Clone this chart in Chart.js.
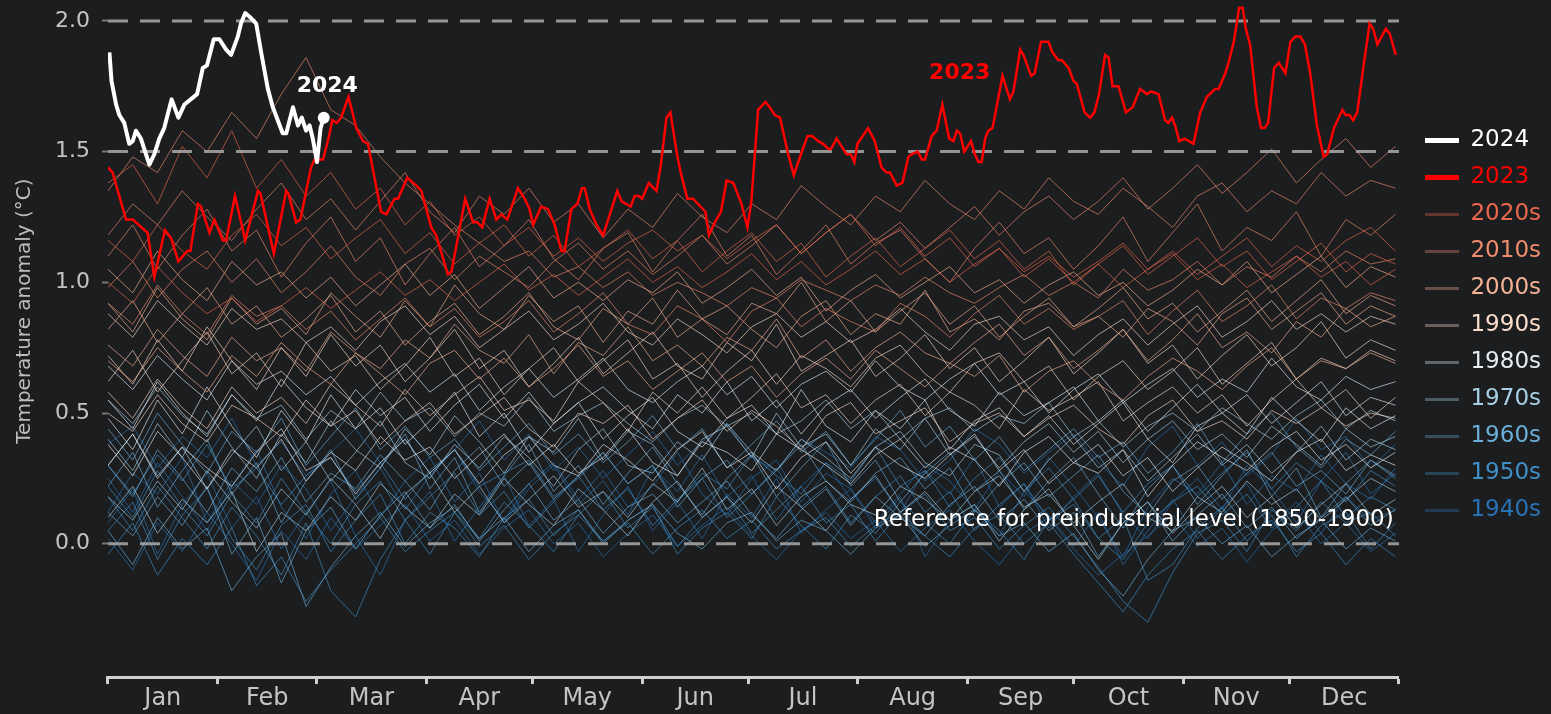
<!DOCTYPE html>
<html>
<head>
<meta charset="utf-8">
<script src="https://cdn.jsdelivr.net/npm/chart.js@4.4.1/dist/chart.umd.min.js"></script>
<style>
  html, body { margin: 0; padding: 0; background: #1c1d1f; }
  #wrap { width: 1551px; height: 714px; }
</style>
</head>
<body>
<div id="wrap"><canvas id="anomalyChart" width="1551" height="714"></canvas></div>
<script>
const FONT = "'DejaVu Sans', 'Noto Sans', sans-serif";

// axis stuff
const monthStarts = [0, 31, 59, 90, 120, 151, 181, 212, 243, 273, 304, 334, 365];
const monthNames = ['Jan', 'Feb', 'Mar', 'Apr', 'May', 'Jun', 'Jul', 'Aug', 'Sep', 'Oct', 'Nov', 'Dec'];
const yTicks = [0, 0.5, 1.0, 1.5, 2.0];
const refLevels = [0, 1.5, 2.0];

// 2024 (day of year, anomaly)
const days2024 = [0.4, 1, 2.3, 3.2, 4.6, 6, 7, 7.9, 9.3, 11.7, 13.1, 14.5, 15.9, 18, 19.9, 21.6, 25.2, 26.8, 28,
  29.9, 31.5, 33.4, 34.8, 36.7, 37.6, 38.8, 40.5, 41.9, 43.3, 45.2, 46.6, 49.4, 50.4, 52.3, 53.7, 54.8, 56, 57,
  57.9, 59.1, 60.1, 61];
const vals2024 = [1.88, 1.77, 1.68, 1.64, 1.61, 1.53, 1.54, 1.58, 1.55, 1.45, 1.49, 1.55, 1.59, 1.70, 1.63, 1.68, 1.72, 1.82, 1.83,
  1.93, 1.93, 1.89, 1.87, 1.94, 1.99, 2.03, 2.01, 1.99, 1.88, 1.74, 1.67, 1.57, 1.57, 1.67, 1.60, 1.63, 1.58, 1.60,
  1.55, 1.46, 1.59, 1.63];

// 2023
const days2023 = [0, 1.3, 5.1, 7, 10.3, 11.2, 13.1, 16.1, 17.8, 19.9, 22.4, 23.3, 25.4, 26.3, 28.7, 30.1, 32.5, 33.4, 35.9, 38.8,
  42.4, 43.1, 46.9, 50.4, 51, 53.2, 54.4, 57.4, 58.4, 60.8, 62.5, 63.4, 64.7, 65.9, 68, 70.2, 72.1, 73.5, 77.2, 78.7,
  81, 82, 84.6, 87.2, 88.6, 91.4, 92.8, 96.1, 97.1, 101, 103.2, 104.4, 105.8, 107.9, 109.8, 111.2, 112.9, 115.9, 117.8, 119.2,
  120.2, 122.5, 124.4, 126.3, 128.2, 129.1, 131, 132.7, 134, 134.8, 136.2, 138.1, 140, 144, 145.2, 147.8, 148.9, 150.1, 151, 152.9,
  155.1, 156.3, 157.9, 159, 161, 162.1, 163.8, 165.4, 168.9, 169.9, 171.6, 173.3, 174.9, 176.8, 179.1, 180.8, 181.9, 183.8, 185.9, 187.1,
  188.5, 190, 192.3, 193.9, 195.9, 197.8, 199.1, 200.8, 202.2, 203.7, 204.4, 206, 207.4, 208.8, 210, 211, 211.9, 214.9, 216.8, 218.7,
  220.1, 221.1, 223, 224.6, 226.3, 227.2, 228.9, 230.1, 231, 232.9, 234.3, 235.9, 237.8, 239, 240, 240.9, 242.1, 244, 245.1, 246.1,
  247, 248, 248.9, 250.1, 252.9, 255, 256, 257.9, 258.8, 261, 262, 263.8, 265.9, 267, 268.7, 269.7, 271.6, 273, 273.9, 276.1,
  277.7, 278.9, 280.2, 281.9, 282.9, 284, 285.7, 287.8, 289.7, 291.8, 293.7, 294.9, 297, 298.9, 299.8, 300.8, 301.7, 302.9, 304.4, 306.9,
  308.8, 310.7, 313, 314, 315.9, 316.8, 318.3, 319.8, 320.8, 321.7, 322.9, 324.8, 326, 327, 328, 329.7, 331, 332.9, 334.3, 335.7,
  337.1, 338.4, 339.9, 341.8, 343.7, 344.7, 346.6, 349, 349.9, 351, 352, 353.2, 355.1, 356.7, 357.7, 358.9, 361.3, 362.4, 364.1];
const vals2023 = [1.44, 1.42, 1.24, 1.24, 1.20, 1.19, 1.02, 1.20, 1.17, 1.08, 1.12, 1.12, 1.30, 1.29, 1.19, 1.24, 1.16, 1.16, 1.33, 1.16,
  1.35, 1.34, 1.11, 1.35, 1.34, 1.23, 1.24, 1.44, 1.47, 1.47, 1.56, 1.62, 1.61, 1.63, 1.71, 1.59, 1.54, 1.53, 1.27, 1.26,
  1.32, 1.32, 1.40, 1.37, 1.35, 1.21, 1.18, 1.03, 1.04, 1.32, 1.23, 1.23, 1.21, 1.32, 1.24, 1.26, 1.24, 1.36, 1.32, 1.28,
  1.22, 1.29, 1.28, 1.22, 1.12, 1.12, 1.28, 1.30, 1.36, 1.36, 1.28, 1.22, 1.18, 1.35, 1.31, 1.29, 1.33, 1.33, 1.32, 1.38,
  1.35, 1.45, 1.63, 1.65, 1.48, 1.41, 1.32, 1.32, 1.27, 1.18, 1.23, 1.27, 1.39, 1.38, 1.30, 1.21, 1.31, 1.66, 1.69, 1.67,
  1.64, 1.63, 1.49, 1.41, 1.49, 1.56, 1.56, 1.54, 1.53, 1.51, 1.51, 1.55, 1.52, 1.49, 1.49, 1.46, 1.53, 1.59, 1.54, 1.44,
  1.42, 1.42, 1.37, 1.38, 1.48, 1.49, 1.50, 1.47, 1.47, 1.56, 1.58, 1.68, 1.55, 1.54, 1.58, 1.57, 1.50, 1.54, 1.49, 1.46,
  1.46, 1.55, 1.58, 1.59, 1.79, 1.70, 1.73, 1.89, 1.87, 1.79, 1.80, 1.92, 1.92, 1.88, 1.85, 1.85, 1.82, 1.77, 1.76, 1.65,
  1.63, 1.65, 1.72, 1.87, 1.86, 1.75, 1.75, 1.65, 1.67, 1.74, 1.72, 1.73, 1.72, 1.62, 1.61, 1.63, 1.60, 1.54, 1.55, 1.53,
  1.65, 1.71, 1.74, 1.74, 1.80, 1.84, 1.92, 2.05, 2.05, 1.97, 1.91, 1.67, 1.59, 1.59, 1.61, 1.82, 1.84, 1.80, 1.92, 1.94,
  1.94, 1.91, 1.80, 1.60, 1.48, 1.49, 1.59, 1.66, 1.64, 1.64, 1.62, 1.65, 1.84, 1.99, 1.97, 1.91, 1.97, 1.95, 1.87];

// background years, sampled weekly (estimated, a few per decade)
const bgDays = [0, 7, 14, 21, 28, 35, 42, 49, 56, 63, 70, 77, 84, 91, 98, 105, 112, 119, 126, 133, 140, 147, 154, 161, 168, 175,
  182, 189, 196, 203, 210, 217, 224, 231, 238, 245, 252, 259, 266, 273, 280, 287, 294, 301, 308, 315, 322, 329, 336, 343, 350, 357, 364];

const y1940s = [
  [0.25,0.12,0.31,0.18,0.05,0.22,0.36,0.14,0.02,0.19, 0.28,0.10,0.24,0.33,0.16,0.27,0.08,0.21,0.30,0.15, 0.24,0.11,0.29,0.20,0.34,0.18,0.26,0.09,0.22,0.31,
   0.17,0.25,0.12,0.28,0.19,0.33,0.14,0.23,0.06,0.18, 0.27,0.11,0.02,0.16,0.25,0.13,0.30,0.21,0.08,0.24, 0.35,0.19,0.27],
  [0.08,0.21,-0.04,0.15,0.27,0.06,0.18,-0.02,0.12,0.24, 0.03,-0.12,0.09,0.20,0.01,0.14,0.26,0.07,0.17,-0.03, 0.11,0.22,0.05,0.16,0.02,0.19,0.10,0.25,0.04,0.13,
   0.21,0.06,0.18,-0.05,0.09,0.15,0.03,0.20,0.11,-0.01, 0.12,-0.08,0.05,0.17,0.02,0.14,0.23,0.07,0.16,0.04, 0.18,0.09,0.13],
  [0.38,0.45,0.29,0.41,0.33,0.48,0.30,0.39,0.26,0.35, 0.44,0.31,0.40,0.27,0.36,0.47,0.32,0.42,0.28,0.37, 0.25,0.34,0.43,0.30,0.39,0.46,0.33,0.28,0.40,0.35,
   0.29,0.41,0.36,0.24,0.32,0.44,0.38,0.27,0.35,0.42, 0.31,0.22,0.37,0.45,0.30,0.39,0.26,0.34,0.48,0.36, 0.41,0.29,0.38],
  [0.12,0.27,0.19,0.33,0.08,0.24,0.15,0.30,0.21,0.05, 0.18,0.29,0.13,0.26,0.36,0.20,0.09,0.23,0.31,0.17, 0.28,0.14,0.22,0.35,0.19,0.11,0.25,0.32,0.16,0.27,
   0.21,0.08,0.19,0.30,0.24,0.13,0.28,0.18,0.33,0.22, 0.10,-0.05,0.14,0.25,0.19,0.31,0.15,0.26,0.20,0.34, 0.23,0.17,0.29],
  [0.02,-0.10,0.08,-0.03,0.12,0.00,-0.14,0.05,-0.06,0.10, -0.02,0.07,0.15,0.01,0.09,-0.04,0.06,0.13,0.00,0.08, -0.05,0.04,0.11,-0.01,0.07,0.14,0.03,-0.06,0.05,0.12,
   0.02,0.09,-0.03,0.06,0.13,0.01,-0.08,0.04,0.10,-0.02, -0.12,-0.04,0.03,0.11,-0.01,0.06,-0.07,0.05,0.12,0.00, 0.08,-0.03,0.04]
];
const y1950s = [
  [0.18,0.05,0.22,0.10,-0.02,0.14,0.03,-0.12,0.08,-0.18, -0.28,-0.06,0.09,-0.04,0.12,0.02,0.16,0.07,-0.03,0.11, 0.20,0.06,0.14,-0.01,0.10,0.18,0.04,0.13,0.22,0.08,
   0.15,0.01,0.12,0.19,0.05,0.10,-0.02,0.07,0.14,0.03, -0.09,-0.22,-0.30,-0.11,0.04,0.09,-0.03,0.13,0.05,0.16, 0.08,0.12,0.03],
  [0.30,0.19,0.34,0.24,0.38,0.21,0.29,0.15,0.26,0.33, 0.20,0.31,0.17,0.28,0.36,0.22,0.27,0.32,0.18,0.25, 0.35,0.23,0.30,0.16,0.27,0.21,0.34,0.26,0.19,0.31,
   0.24,0.37,0.22,0.28,0.14,0.25,0.33,0.20,0.29,0.17, 0.26,0.12,0.23,0.30,0.18,0.27,0.35,0.21,0.31,0.24, 0.16,0.28,0.22],
  [0.05,0.16,-0.06,0.11,0.21,0.02,-0.10,0.07,0.15,-0.03, 0.09,0.19,0.00,0.12,0.06,-0.05,0.10,0.17,0.03,0.13, 0.01,0.09,0.15,-0.04,0.06,0.12,0.02,0.18,0.07,-0.02,
   0.11,0.04,0.16,0.08,0.00,0.13,0.05,-0.06,0.09,0.15, 0.02,0.10,-0.14,-0.08,0.06,0.14,0.01,0.11,-0.05,0.07, 0.12,-0.02,0.08],
  [0.22,0.10,0.28,0.14,0.03,0.19,0.08,0.25,0.12,0.00, 0.15,0.24,0.09,0.18,0.27,0.11,0.20,0.06,0.16,0.26, 0.13,0.21,0.07,0.17,0.25,0.10,0.19,0.29,0.14,0.22,
   0.08,0.18,0.26,0.12,0.20,0.05,0.15,0.23,0.09,0.17, 0.02,-0.06,0.08,0.16,0.22,0.11,0.19,0.06,0.14,0.24, 0.10,0.18,0.13],
  [-0.04,0.08,-0.12,0.02,-0.08,0.06,-0.16,-0.05,-0.22,-0.10, 0.00,0.10,-0.03,0.05,0.12,-0.01,0.07,-0.06,0.04,0.11, 0.01,0.08,-0.04,0.06,0.13,0.02,0.09,-0.02,0.05,0.10,
   -0.01,0.07,0.12,0.03,-0.05,0.06,0.11,0.00,0.08,-0.04, -0.15,-0.26,-0.12,-0.02,0.05,-0.06,0.03,0.09,-0.03,0.04, -0.08,0.02,-0.05]
];
const y1960s = [
  [0.22,0.35,0.14,0.28,0.40,0.19,0.31,0.08,0.24,0.36, 0.17,0.29,0.42,0.21,0.33,0.12,0.26,0.38,0.20,0.30, 0.15,0.27,0.37,0.23,0.11,0.25,0.34,0.18,0.29,0.39,
   0.22,0.32,0.16,0.27,0.35,0.20,0.28,0.13,0.24,0.33, 0.19,0.06,0.21,0.30,0.15,0.26,0.36,0.18,0.29,0.10, 0.23,0.32,0.25],
  [0.12,0.03,0.18,0.07,0.22,-0.04,0.10,-0.15,0.05,0.14, -0.02,0.11,0.20,0.06,0.15,0.01,0.13,0.23,0.09,0.17, 0.04,0.14,0.19,0.08,0.16,0.24,0.11,0.02,0.13,0.21,
   0.07,0.18,0.10,0.03,0.15,0.22,0.09,0.17,0.05,0.12, -0.05,0.08,0.16,0.01,0.11,0.19,0.06,0.14,0.02,0.10, 0.18,0.07,0.13],
  [0.44,0.32,0.50,0.38,0.27,0.43,0.35,0.48,0.30,0.41, 0.52,0.36,0.45,0.33,0.40,0.28,0.37,0.46,0.34,0.42, 0.31,0.39,0.49,0.36,0.44,0.29,0.38,0.47,0.35,0.43,
   0.30,0.40,0.51,0.37,0.45,0.32,0.41,0.28,0.36,0.44, 0.33,0.39,0.27,0.35,0.46,0.31,0.42,0.50,0.37,0.29, 0.40,0.34,0.43],
  [0.30,0.18,0.36,0.25,0.12,0.29,0.20,0.33,0.16,0.27, 0.21,0.34,0.24,0.13,0.28,0.37,0.22,0.31,0.17,0.26, 0.35,0.23,0.30,0.14,0.25,0.32,0.19,0.28,0.38,0.24,
   0.16,0.27,0.33,0.21,0.29,0.12,0.23,0.31,0.18,0.26, 0.34,0.20,0.11,0.24,0.30,0.17,0.27,0.35,0.22,0.28, 0.19,0.32,0.26],
  [0.05,-0.08,0.10,-0.02,0.06,-0.18,-0.05,0.04,-0.24,-0.09, 0.03,0.12,-0.01,0.08,0.14,0.02,0.10,-0.03,0.07,0.13, 0.00,0.09,0.15,0.04,-0.02,0.08,0.12,0.01,0.09,0.05,
   -0.04,0.06,0.11,-0.01,0.07,0.13,0.03,0.08,-0.03,0.04, -0.10,-0.20,-0.06,0.05,0.10,0.00,0.07,-0.05,0.03,0.09, -0.02,0.06,0.01]
];
const y1970s = [
  [0.30,0.42,0.26,0.37,0.21,0.34,0.45,0.28,0.39,0.24, 0.35,0.47,0.31,0.25,0.38,0.29,0.41,0.33,0.22,0.36, 0.44,0.30,0.27,0.39,0.32,0.46,0.35,0.28,0.40,0.33,
   0.25,0.37,0.43,0.31,0.26,0.38,0.34,0.20,0.32,0.41, 0.29,0.36,0.24,0.33,0.42,0.30,0.38,0.27,0.35,0.45, 0.32,0.40,0.36],
  [0.18,0.09,0.24,0.13,0.28,0.16,0.06,0.21,0.11,0.25, 0.15,0.02,0.19,0.27,0.12,0.22,0.08,0.17,0.26,0.14, 0.20,0.10,0.23,0.16,0.29,0.13,0.21,0.07,0.18,0.24,
   0.15,0.11,0.22,0.17,0.09,0.20,0.26,0.14,0.19,0.08, 0.16,0.23,0.10,0.05,0.18,0.12,0.24,0.15,0.21,0.09, 0.17,0.25,0.20],
  [0.55,0.46,0.60,0.49,0.42,0.57,0.48,0.53,0.40,0.51, 0.44,0.58,0.47,0.52,0.41,0.50,0.45,0.56,0.43,0.49, 0.54,0.46,0.39,0.48,0.53,0.45,0.50,0.42,0.47,0.55,
   0.44,0.51,0.40,0.48,0.52,0.43,0.49,0.46,0.54,0.41, 0.47,0.37,0.45,0.50,0.43,0.52,0.46,0.40,0.49,0.55, 0.44,0.51,0.47],
  [0.40,0.28,0.46,0.33,0.51,0.37,0.25,0.42,0.31,0.47, 0.36,0.29,0.44,0.34,0.49,0.39,0.27,0.41,0.35,0.48, 0.32,0.43,0.38,0.26,0.40,0.45,0.33,0.50,0.37,0.42,
   0.30,0.44,0.36,0.48,0.34,0.41,0.29,0.39,0.46,0.35, 0.43,0.31,0.40,0.47,0.36,0.42,0.33,0.45,0.38,0.30, 0.44,0.37,0.41],
  [0.10,0.22,0.04,0.17,0.08,0.20,-0.03,0.12,0.05,0.18, 0.09,0.23,0.14,0.06,0.19,0.11,0.25,0.15,0.07,0.21, 0.13,0.03,0.16,0.24,0.10,0.18,0.08,0.22,0.14,0.05,
   0.17,0.26,0.12,0.20,0.09,0.15,0.01,0.13,0.21,0.07, -0.06,0.08,0.16,0.04,0.14,0.22,0.10,0.18,0.06,0.15, 0.23,0.11,0.17]
];
const y1980s = [
  [0.48,0.36,0.55,0.42,0.60,0.45,0.33,0.51,0.39,0.57, 0.44,0.52,0.38,0.47,0.58,0.41,0.50,0.35,0.46,0.54, 0.40,0.49,0.56,0.43,0.37,0.48,0.53,0.42,0.59,0.45,
   0.39,0.51,0.44,0.55,0.36,0.47,0.52,0.41,0.49,0.38, 0.46,0.54,0.40,0.31,0.45,0.50,0.42,0.56,0.47,0.39, 0.52,0.44,0.49],
  [0.30,0.42,0.25,0.37,0.29,0.22,0.35,0.44,0.28,0.33, 0.19,0.31,0.40,0.27,0.36,0.23,0.34,0.41,0.30,0.26, 0.38,0.32,0.24,0.36,0.43,0.29,0.35,0.21,0.33,0.39,
   0.27,0.37,0.30,0.25,0.34,0.42,0.28,0.36,0.23,0.31, 0.38,0.26,0.33,0.20,0.29,0.37,0.31,0.24,0.35,0.40, 0.28,0.34,0.30],
  [0.68,0.59,0.72,0.63,0.55,0.70,0.61,0.66,0.57,0.64, 0.53,0.62,0.69,0.58,0.65,0.51,0.60,0.67,0.56,0.63, 0.71,0.59,0.54,0.62,0.68,0.57,0.64,0.52,0.61,0.66,
   0.58,0.70,0.60,0.55,0.63,0.69,0.57,0.62,0.50,0.59, 0.65,0.54,0.61,0.67,0.56,0.63,0.58,0.71,0.60,0.55, 0.64,0.59,0.62],
  [0.55,0.44,0.62,0.50,0.41,0.57,0.47,0.63,0.52,0.45, 0.59,0.49,0.56,0.43,0.53,0.61,0.48,0.58,0.46,0.54, 0.60,0.51,0.44,0.57,0.50,0.62,0.47,0.55,0.42,0.53,
   0.59,0.48,0.56,0.63,0.51,0.45,0.58,0.49,0.54,0.60, 0.47,0.55,0.43,0.52,0.61,0.50,0.57,0.46,0.54,0.62, 0.49,0.56,0.53],
  [0.38,0.26,0.43,0.33,0.21,0.36,0.29,0.40,0.24,0.35, 0.28,0.41,0.32,0.37,0.25,0.34,0.42,0.30,0.38,0.27, 0.33,0.44,0.31,0.26,0.39,0.35,0.28,0.42,0.36,0.30,
   0.23,0.34,0.40,0.29,0.37,0.32,0.22,0.35,0.41,0.31, 0.27,0.36,0.18,0.30,0.39,0.33,0.28,0.37,0.43,0.32, 0.38,0.29,0.35]
];
const y1990s = [
  [0.62,0.74,0.58,0.70,0.81,0.65,0.73,0.60,0.77,0.66, 0.72,0.59,0.68,0.79,0.64,0.71,0.57,0.67,0.75,0.62, 0.70,0.78,0.63,0.69,0.56,0.66,0.74,0.61,0.72,0.67,
   0.60,0.71,0.76,0.65,0.58,0.69,0.73,0.62,0.68,0.55, 0.64,0.70,0.59,0.66,0.75,0.61,0.69,0.77,0.63,0.71, 0.67,0.74,0.70],
  [0.50,0.43,0.57,0.46,0.39,0.53,0.48,0.41,0.55,0.45, 0.51,0.38,0.47,0.54,0.42,0.49,0.56,0.44,0.37,0.50, 0.46,0.53,0.40,0.48,0.55,0.43,0.51,0.45,0.36,0.49,
   0.54,0.42,0.47,0.52,0.39,0.46,0.50,0.41,0.48,0.53, 0.44,0.38,0.49,0.55,0.43,0.47,0.40,0.51,0.46,0.52, 0.45,0.50,0.48],
  [0.88,0.79,0.93,0.84,0.76,0.90,0.82,0.86,0.77,0.83, 0.74,0.85,0.91,0.80,0.87,0.75,0.82,0.89,0.78,0.84, 0.92,0.81,0.76,0.86,0.80,0.73,0.83,0.88,0.79,0.85,
   0.77,0.82,0.90,0.81,0.74,0.84,0.87,0.78,0.83,0.72, 0.80,0.86,0.76,0.84,0.91,0.79,0.85,0.93,0.82,0.88, 0.81,0.87,0.84],
  [0.72,0.61,0.78,0.66,0.83,0.70,0.59,0.75,0.64,0.80, 0.68,0.76,0.62,0.71,0.82,0.67,0.74,0.60,0.69,0.79, 0.65,0.73,0.81,0.68,0.63,0.77,0.70,0.84,0.66,0.72,
   0.78,0.64,0.71,0.80,0.67,0.75,0.62,0.70,0.79,0.65, 0.73,0.82,0.69,0.76,0.63,0.72,0.80,0.68,0.75,0.85, 0.71,0.78,0.74],
  [0.58,0.48,0.63,0.52,0.44,0.60,0.50,0.56,0.46,0.61, 0.53,0.45,0.59,0.49,0.57,0.64,0.51,0.55,0.47,0.62, 0.54,0.43,0.58,0.50,0.60,0.48,0.56,0.65,0.52,0.57,
   0.46,0.55,0.61,0.49,0.58,0.53,0.44,0.59,0.51,0.56, 0.62,0.47,0.54,0.60,0.50,0.57,0.45,0.55,0.63,0.52, 0.59,0.48,0.56]
];
const y2000s = [
  [0.82,0.93,0.77,0.88,0.98,0.84,0.91,0.79,0.86,0.95, 0.81,0.89,0.76,0.85,0.92,0.80,0.87,0.96,0.83,0.78, 0.90,0.84,0.94,0.79,0.86,0.91,0.82,0.75,0.87,0.93,
   0.80,0.88,0.84,0.97,0.81,0.86,0.78,0.89,0.92,0.83, 0.87,0.79,0.90,0.85,0.76,0.88,0.94,0.82,0.89,0.96, 0.84,0.91,0.87],
  [0.70,0.62,0.75,0.66,0.58,0.72,0.64,0.77,0.68,0.61, 0.73,0.65,0.57,0.69,0.74,0.63,0.71,0.60,0.67,0.76, 0.64,0.70,0.59,0.66,0.73,0.62,0.68,0.56,0.65,0.71,
   0.63,0.74,0.67,0.60,0.69,0.64,0.72,0.58,0.66,0.70, 0.61,0.55,0.64,0.71,0.66,0.59,0.68,0.75,0.63,0.70, 0.67,0.73,0.69],
  [1.05,0.96,1.12,1.01,0.93,1.08,0.99,1.04,0.94,1.02, 0.91,0.99,1.07,0.95,1.03,0.90,0.98,1.06,0.94,1.00, 0.93,1.01,0.96,1.04,0.92,0.98,1.05,0.95,1.02,0.89,
   0.97,1.03,0.94,1.00,1.06,0.96,1.01,0.92,0.99,1.04, 0.95,1.00,0.91,0.97,1.05,0.99,1.08,0.96,1.03,1.10, 0.98,1.06,1.02],
  [0.92,0.81,0.98,0.86,0.78,0.94,0.84,0.90,0.80,0.96, 0.87,0.79,0.93,0.83,0.99,0.88,0.82,0.95,0.85,0.91, 0.77,0.89,0.84,0.97,0.86,0.80,0.92,0.88,1.00,0.85,
   0.93,0.81,0.89,0.96,0.84,0.91,0.79,0.87,0.94,0.83, 0.90,0.98,0.86,0.92,0.81,0.89,0.97,0.85,0.93,1.01, 0.88,0.95,0.91],
  [0.76,0.68,0.82,0.72,0.64,0.79,0.70,0.75,0.66,0.81, 0.73,0.67,0.78,0.71,0.84,0.74,0.69,0.80,0.65,0.77, 0.72,0.83,0.70,0.76,0.68,0.79,0.74,0.86,0.71,0.78,
   0.66,0.75,0.81,0.73,0.69,0.77,0.84,0.72,0.79,0.67, 0.74,0.82,0.70,0.78,0.88,0.75,0.81,0.73,0.85,0.79, 0.90,0.83,0.87]
];
const y2010s = [
  [1.35,1.48,1.42,1.58,1.50,1.65,1.55,1.72,1.86,1.66, 1.60,1.48,1.38,1.30,1.22,1.15,1.08,1.12,1.02,1.06, 0.98,1.04,0.95,1.00,0.96,0.91,0.98,0.94,1.01,0.97,
   0.93,0.99,0.95,1.02,0.96,0.92,0.98,1.03,0.95,1.00, 0.94,1.05,0.97,1.01,1.08,0.99,1.06,1.02,1.10,1.04, 1.12,1.07,1.09],
  [1.10,1.22,1.05,1.18,1.28,1.12,1.20,1.02,1.15,1.25, 1.08,1.17,0.99,1.11,1.21,1.06,1.14,1.24,1.09,1.01, 1.13,1.19,1.04,1.16,1.26,1.10,1.18,1.03,1.12,1.22,
   1.07,1.15,1.20,1.09,1.00,1.13,1.23,1.11,1.17,1.05, 1.14,1.25,1.08,1.19,1.30,1.12,1.21,1.16,1.27,1.10, 1.24,1.18,1.26],
  [0.92,0.84,0.99,0.88,0.80,0.95,0.87,0.91,0.82,0.89, 0.78,0.86,0.94,0.83,0.90,0.79,0.85,0.93,0.81,0.88, 0.96,0.84,0.80,0.91,0.86,0.77,0.89,0.94,0.83,0.90,
   0.85,0.81,0.92,0.87,0.79,0.88,0.95,0.84,0.90,0.82, 0.87,0.93,0.80,0.89,0.97,0.85,0.91,0.99,0.86,0.94, 0.90,0.96,0.93],
  [0.98,1.08,0.94,1.05,1.12,1.00,1.09,0.96,1.04,1.14, 1.02,0.95,1.07,1.13,1.01,1.10,1.04,0.98,1.08,1.15, 1.05,1.12,1.03,1.10,1.18,1.07,1.14,1.22,1.11,1.19,
   1.26,1.16,1.23,1.13,1.21,1.29,1.18,1.27,1.33,1.24, 1.31,1.40,1.28,1.36,1.45,1.34,1.42,1.51,1.38,1.47, 1.55,1.44,1.52],
  [1.18,1.30,1.22,1.35,1.25,1.16,1.28,1.38,1.24,1.32, 1.20,1.31,1.42,1.27,1.19,1.33,1.26,1.36,1.23,1.30, 1.17,1.28,1.21,1.34,1.25,1.19,1.30,1.24,1.37,1.29,
   1.22,1.33,1.27,1.39,1.30,1.24,1.35,1.28,1.40,1.31, 1.26,1.36,1.29,1.21,1.33,1.38,1.27,1.35,1.30,1.42, 1.33,1.39,1.36]
];
const y2020s = [
  [1.38,1.45,1.30,1.52,1.40,1.58,1.36,1.47,1.33,1.42, 1.28,1.36,1.22,1.31,1.18,1.25,1.14,1.21,1.10,1.17, 1.08,1.15,1.20,1.12,1.18,1.09,1.16,1.22,1.11,1.19,
   1.26,1.14,1.21,1.10,1.17,1.06,1.13,1.02,1.09,1.00, 1.07,0.98,1.05,1.12,1.03,1.10,1.17,1.06,1.14,1.08, 1.16,1.21,1.12],
  [1.00,0.92,1.06,0.96,0.88,0.94,0.85,0.91,0.98,0.90, 0.97,1.04,0.95,1.01,0.93,1.00,1.07,0.97,1.03,0.95, 1.02,1.09,1.00,1.06,0.98,1.04,1.11,1.01,1.08,0.99,
   1.05,1.12,1.03,1.09,1.00,1.07,1.13,1.04,1.10,1.02, 1.08,1.15,1.05,1.11,1.01,1.07,0.98,1.04,1.10,1.02, 1.08,0.99,1.05],
  [1.16,1.08,1.22,1.12,1.05,1.18,1.26,1.14,1.21,1.09, 1.17,1.24,1.11,1.19,1.07,1.15,1.22,1.10,1.18,1.06, 1.13,1.20,1.09,1.16,1.04,1.12,1.19,1.08,1.15,1.02,
   1.10,1.17,1.06,1.13,1.20,1.09,1.16,1.05,1.12,0.99, 1.07,1.14,1.03,1.10,1.17,1.06,1.12,1.01,1.08,1.15, 1.04,1.11,1.07]
];

const decadeNames = ['2020s', '2010s', '2000s', '1990s', '1980s', '1970s', '1960s', '1950s', '1940s'];
const decadeSeries = [y2020s, y2010s, y2000s, y1990s, y1980s, y1970s, y1960s, y1950s, y1940s];
const decadeRgb = ['236,104,78', '240,140,110', '245,178,148', '251,220,203', '229,237,243', '168,208,229', '108,174,215', '64,144,198', '40,114,182'];

function toPoints(days, vals) {
  return vals.map((v, i) => ({ x: days[i], y: v }));
}

// first dataset is drawn on top
const datasets = [];
datasets.push({
  label: '2024',
  data: toPoints(days2024, vals2024),
  borderColor: '#ffffff',
  borderWidth: 4,
  borderJoinStyle: 'round',
  pointRadius: ctx => ctx.dataIndex === vals2024.length - 1 ? 6 : 0,
  pointBackgroundColor: '#ffffff',
  pointBorderWidth: 0
});
datasets.push({
  label: '2023',
  data: toPoints(days2023, vals2023),
  borderColor: '#ff0000',
  borderWidth: 2.5,
  pointRadius: 0
});
refLevels.forEach(lvl => {
  datasets.push({
    label: 'ref ' + lvl,
    data: [{ x: 0, y: lvl }, { x: 365, y: lvl }],
    borderColor: 'rgba(170,170,170,0.85)',
    borderWidth: 3,
    borderDash: [20, 12],
    pointRadius: 0
  });
});
decadeSeries.forEach((lines, d) => {
  lines.forEach((vals, k) => {
    datasets.push({
      label: decadeNames[d] + ' #' + k,
      data: toPoints(bgDays, vals),
      borderColor: 'rgba(' + decadeRgb[d] + ',0.65)',
      borderWidth: 1,
      pointRadius: 0
    });
  });
});

const legendItems = [
  { text: '2024', strokeStyle: '#ffffff', fillStyle: '#ffffff', fontColor: '#ffffff', lineWidth: 5, pointStyle: 'line', hidden: false },
  { text: '2023', strokeStyle: '#ff0000', fillStyle: '#ff0000', fontColor: '#ff0000', lineWidth: 5, pointStyle: 'line', hidden: false }
].concat(decadeNames.map((name, d) => ({
  text: name,
  strokeStyle: 'rgba(' + decadeRgb[d] + ',0.35)',
  fillStyle: 'rgba(' + decadeRgb[d] + ',0.35)',
  fontColor: 'rgb(' + decadeRgb[d] + ')',
  lineWidth: 3,
  pointStyle: 'line',
  hidden: false
})));

// text labels drawn on top, placed with the scales
const textLabels = {
  id: 'textLabels',
  afterDatasetsDraw(chart) {
    const { ctx, scales: { x, y } } = chart;
    ctx.save();
    ctx.textBaseline = 'middle';
    ctx.textAlign = 'center';
    ctx.font = 'bold 22px ' + FONT;
    ctx.fillStyle = '#ffffff';
    ctx.fillText('2024', x.getPixelForValue(62), y.getPixelForValue(1.75));
    ctx.fillStyle = '#ff0000';
    ctx.fillText('2023', x.getPixelForValue(240.8), y.getPixelForValue(1.80));
    ctx.font = '23px ' + FONT;
    ctx.fillStyle = '#ffffff';
    ctx.textAlign = 'right';
    ctx.fillText('Reference for preindustrial level (1850-1900)', x.getPixelForValue(363.5), y.getPixelForValue(0.09));
    // y title
    ctx.font = '20px ' + FONT;
    ctx.translate(25, y.getPixelForValue(0.89));
    ctx.rotate(-Math.PI / 2);
    ctx.textAlign = 'center';
    ctx.fillStyle = '#bdbdbd';
    ctx.fillText('Temperature anomaly (°C)', 0, 0);
    ctx.restore();
  }
};

const monthMids = monthNames.map((m, i) => (monthStarts[i] + monthStarts[i + 1]) / 2);
const noPadding = scale => {
  scale.paddingTop = 0;
  scale.paddingBottom = 0;
};

new Chart(document.getElementById('anomalyChart').getContext('2d'), {
  type: 'line',
  data: { datasets: datasets },
  options: {
    responsive: false,
    animation: false,
    devicePixelRatio: 1,
    layout: { autoPadding: false, padding: { left: 43, right: 0, top: 0, bottom: 0 } },
    plugins: {
      tooltip: { enabled: false },
      legend: {
        position: 'right',
        align: 'start',
        onClick: null,
        title: { display: true, text: '', font: { size: 10, lineHeight: 1 }, padding: { top: 105, bottom: 0 } },
        labels: {
          usePointStyle: true,
          pointStyleWidth: 34,
          boxHeight: 23,
          padding: 14,
          font: { family: FONT, size: 23 },
          generateLabels: () => legendItems
        }
      }
    },
    scales: {
      x: {
        type: 'linear',
        min: 0,
        max: 365,
        afterBuildTicks: scale => {
          scale.ticks = monthStarts.concat(monthMids).sort((a, b) => a - b).map(v => ({ value: v }));
        },
        ticks: {
          autoSkip: false,
          maxRotation: 0,
          padding: 2,
          color: '#c4c4c4',
          font: { family: FONT, size: 24, lineHeight: 1.08 },
          callback: (value) => {
            const i = monthMids.indexOf(value);
            return i >= 0 ? monthNames[i] : '';
          }
        },
        grid: {
          drawOnChartArea: false,
          tickLength: 7,
          tickWidth: 3,
          tickColor: ctx => monthStarts.includes(ctx.tick.value) ? '#cfcfcf' : 'rgba(0,0,0,0)'
        },
        border: { display: true, color: '#cfcfcf', width: 3 }
      },
      y: {
        min: -0.51,
        max: 2.08,
        afterBuildTicks: scale => {
          scale.ticks = yTicks.map(v => ({ value: v }));
        },
        afterFit: noPadding,
        ticks: {
          padding: 12,
          color: '#c4c4c4',
          font: { family: FONT, size: 22 },
          callback: value => value.toFixed(1)
        },
        grid: {
          drawOnChartArea: false,
          tickLength: 6,
          tickWidth: 2,
          tickColor: '#777777'
        },
        border: { display: false }
      },
      // empty right axis, only keeps a gap before the legend
      gap: {
        type: 'linear',
        position: 'right',
        afterFit: noPadding,
        ticks: { display: false },
        grid: { drawOnChartArea: false, drawTicks: true, tickLength: 12, color: 'rgba(0,0,0,0)' },
        border: { display: false }
      }
    }
  },
  plugins: [textLabels]
});
</script>
</body>
</html>
